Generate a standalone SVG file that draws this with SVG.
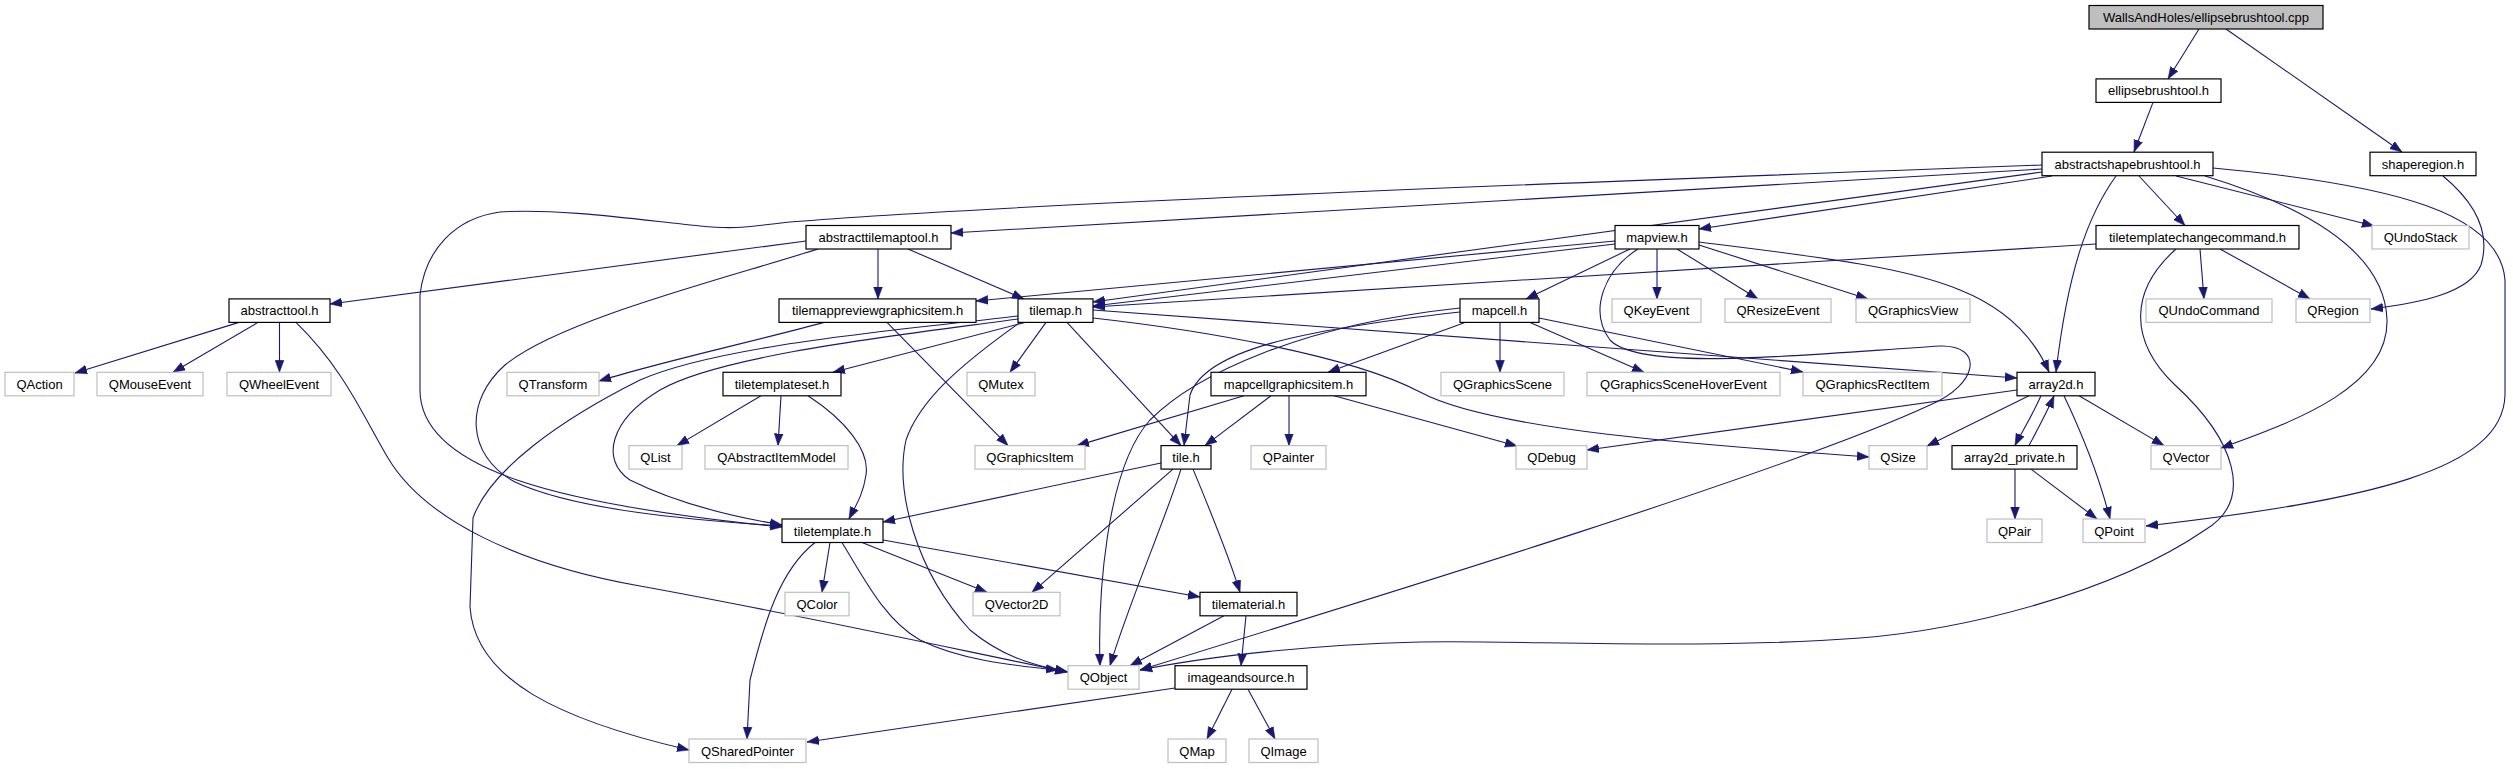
<svg xmlns="http://www.w3.org/2000/svg" width="2513" height="769" viewBox="0 0 2513 769">
<style>
.n rect{fill:#fff;stroke:#000;stroke-width:1.2}
.x rect{fill:#fff;stroke:#bfbfbf;stroke-width:1.2}
.r rect{fill:#bfbfbf;stroke:#000;stroke-width:1.2}
text{font-family:"Liberation Sans",Arial,Helvetica,sans-serif;font-size:13px;text-anchor:middle;fill:#000}
#edges path{fill:none;stroke:#191970;stroke-width:1.1;marker-end:url(#a)}
</style>
<defs>
<marker id="a" markerUnits="userSpaceOnUse" viewBox="0 0 12 10" markerWidth="12" markerHeight="10" refX="12" refY="5" orient="auto">
<path d="M0,0.6 L12,5 L0,9.4 z" fill="#191970" stroke="#191970" stroke-width="0.5"/>
</marker>
</defs>
<rect width="2513" height="769" fill="#fff"/>
<g id="edges">
<path d="M2199,29 L2168,79"/>
<path d="M2226,29 L2402,152"/>
<path d="M2153,102.4 L2134,152"/>
<path d="M2443,176 C2478,205 2490,235 2481,265 C2470,293 2420,303 2371,309"/>
<path d="M2139,176 L2185,225.5"/>
<path d="M2176,176 L2374,226"/>
<path d="M2116,176 C2088,215 2068,270 2056,372"/>
<path d="M2205,176 C2300,205 2385,250 2387,320 C2389,385 2300,420 2221,448"/>
<path d="M2213,168 C2400,185 2500,215 2505,280 L2505,395 C2503,470 2370,500 2146,526"/>
<path d="M2052,176 L1699,229"/>
<path d="M2042,172 L1093,302"/>
<path d="M2042,169 L951,233"/>
<path d="M2042,165 C1500,185 1000,205 790,222 C750,226 740,230 700,226 C640,220 560,208 500,212 C455,218 425,250 420,295 L420,390 C420,470 560,505 782,527"/>
<path d="M806,241 L330,304"/>
<path d="M878,249 L878,299"/>
<path d="M908,249 L1024,299"/>
<path d="M818,249 C720,280 560,320 505,365 C465,400 465,455 515,482 C575,510 690,520 782,526"/>
<path d="M239,322.4 L75,373"/>
<path d="M258,322.4 L173,372.3"/>
<path d="M279.5,322.4 L279.5,372.3"/>
<path d="M296,322.4 C345,370 365,420 388,458 C425,520 520,565 640,586 C800,615 950,648 1067,672"/>
<path d="M824,322.4 C760,340 660,362 599,381"/>
<path d="M887,322.4 L1008,445.6"/>
<path d="M1025,322.4 L833,372.3"/>
<path d="M1046,322.4 L1010,372.3"/>
<path d="M1067,322.4 L1181,445.6"/>
<path d="M1020,322.4 C960,365 920,400 906,440 C895,490 915,570 970,630 C1000,655 1030,665 1068,672"/>
<path d="M1018,316 C900,330 720,345 640,380 C560,420 490,470 473,518 L470,607 C475,680 560,720 689,750"/>
<path d="M1018,319 C900,335 720,355 660,390 C610,420 600,460 630,480 C680,505 740,518 782,525"/>
<path d="M1093,318 C1200,330 1350,355 1420,392 C1490,430 1700,445 1869,457"/>
<path d="M1093,310 L2017,378"/>
<path d="M1615,241 L976,301"/>
<path d="M1615,244 L1093,306"/>
<path d="M1630,249 L1526,299"/>
<path d="M1657,249 L1657,299"/>
<path d="M1677,249 L1758,299"/>
<path d="M1699,245 L1868,299"/>
<path d="M1699,242 C1800,255 1900,265 1960,290 C2010,310 2035,340 2049,372"/>
<path d="M1638,249 C1605,270 1588,310 1610,340 C1640,372 1800,355 1940,346 C1985,345 1978,385 1930,405 C1790,470 1400,590 1140,670"/>
<path d="M1500,322.4 L1500,372.3"/>
<path d="M1530,322.4 L1644,372.3"/>
<path d="M1539,318 L1803,372"/>
<path d="M1465,322.4 L1328,372.3"/>
<path d="M1460,312 C1300,330 1205,350 1190,395 L1184,445.6"/>
<path d="M1460,308 C1300,325 1195,375 1150,420 C1105,470 1098,600 1100,665.7"/>
<path d="M1244,395.8 L1077,445.6"/>
<path d="M1271,395.8 L1205,445.6"/>
<path d="M1289,395.8 L1289,445.6"/>
<path d="M1334,395.8 L1517,446"/>
<path d="M761,395.8 L677,445.6"/>
<path d="M781,395.8 L778,445.6"/>
<path d="M808,395.8 C845,420 870,450 866,475 C863,495 856,505 849,519"/>
<path d="M2029,395.8 L1927,446"/>
<path d="M2041,395.8 C2030,420 2020,435 2015,445.6"/>
<path d="M2029,445.6 C2040,425 2048,410 2054,395.8"/>
<path d="M2064,395.8 C2085,440 2100,480 2110,519"/>
<path d="M2079,395.8 L2164,445.6"/>
<path d="M2017,390 L1587,450"/>
<path d="M2015,469.1 L2015,519"/>
<path d="M2031,469.1 L2097,519"/>
<path d="M2096,244 L1093,307"/>
<path d="M2200,249 L2204,298.9"/>
<path d="M2220,249 L2310,298.9"/>
<path d="M2176,249 C2130,290 2128,340 2175,385 C2235,440 2255,500 2205,530 C2110,595 1960,630 1860,638 C1700,650 1520,640 1420,642 C1300,645 1200,658 1140,670"/>
<path d="M1161,463 L883,522"/>
<path d="M1173,469.1 L1032,592.3"/>
<path d="M1181,469.1 C1165,520 1130,600 1110,665.7"/>
<path d="M1193,469.1 C1210,510 1230,560 1240,592.3"/>
<path d="M815,542.5 C780,570 765,620 750,680 L747,739"/>
<path d="M830,542.5 L822,592.3"/>
<path d="M842,542.5 C865,580 885,620 920,640 C960,660 1010,665 1058,670"/>
<path d="M862,542.5 L987,592.3"/>
<path d="M883,540 L1200,597"/>
<path d="M1224,615.8 L1130,665.7"/>
<path d="M1246,615.8 L1241,665.7"/>
<path d="M1175,688 L807,742"/>
<path d="M1232,689.2 L1207,739"/>
<path d="M1248,689.2 L1275,739"/>
</g>
<g id="root" class="r"><rect x="2089" y="5.5" width="234" height="23.5"/><text x="2206" y="22">WallsAndHoles/ellipsebrushtool.cpp</text></g>
<g id="ellipsebrushtool_h" class="n"><rect x="2096" y="78.9" width="125" height="23.5"/><text x="2158.5" y="95.4">ellipsebrushtool.h</text></g>
<g id="abstractshapebrushtool_h" class="n"><rect x="2042" y="152.2" width="171" height="23.5"/><text x="2127.5" y="168.7">abstractshapebrushtool.h</text></g>
<g id="shaperegion_h" class="n"><rect x="2370" y="152.2" width="106" height="23.5"/><text x="2423" y="168.7">shaperegion.h</text></g>
<g id="abstracttilemaptool_h" class="n"><rect x="806" y="225.5" width="145" height="23.5"/><text x="878.5" y="242">abstracttilemaptool.h</text></g>
<g id="mapview_h" class="n"><rect x="1615" y="225.5" width="84" height="23.5"/><text x="1657" y="242">mapview.h</text></g>
<g id="tiletemplatechangecommand_h" class="n"><rect x="2096" y="225.5" width="203" height="23.5"/><text x="2197.5" y="242">tiletemplatechangecommand.h</text></g>
<g id="QUndoStack" class="x"><rect x="2372" y="225.5" width="97" height="23.5"/><text x="2420.5" y="242">QUndoStack</text></g>
<g id="abstracttool_h" class="n"><rect x="229" y="298.9" width="101" height="23.5"/><text x="279.5" y="315.4">abstracttool.h</text></g>
<g id="tilemappreviewgraphicsitem_h" class="n"><rect x="779" y="298.9" width="197" height="23.5"/><text x="877.5" y="315.4">tilemappreviewgraphicsitem.h</text></g>
<g id="tilemap_h" class="n"><rect x="1018" y="298.9" width="75" height="23.5"/><text x="1055.5" y="315.4">tilemap.h</text></g>
<g id="mapcell_h" class="n"><rect x="1460" y="298.9" width="79" height="23.5"/><text x="1499.5" y="315.4">mapcell.h</text></g>
<g id="QKeyEvent" class="x"><rect x="1612" y="298.9" width="89" height="23.5"/><text x="1656.5" y="315.4">QKeyEvent</text></g>
<g id="QResizeEvent" class="x"><rect x="1725" y="298.9" width="106" height="23.5"/><text x="1778" y="315.4">QResizeEvent</text></g>
<g id="QGraphicsView" class="x"><rect x="1856" y="298.9" width="114" height="23.5"/><text x="1913" y="315.4">QGraphicsView</text></g>
<g id="QUndoCommand" class="x"><rect x="2146" y="298.9" width="126" height="23.5"/><text x="2209" y="315.4">QUndoCommand</text></g>
<g id="QRegion" class="x"><rect x="2296" y="298.9" width="74" height="23.5"/><text x="2333" y="315.4">QRegion</text></g>
<g id="QAction" class="x"><rect x="5" y="372.3" width="69" height="23.5"/><text x="39.5" y="388.8">QAction</text></g>
<g id="QMouseEvent" class="x"><rect x="97" y="372.3" width="106" height="23.5"/><text x="150" y="388.8">QMouseEvent</text></g>
<g id="QWheelEvent" class="x"><rect x="227" y="372.3" width="104" height="23.5"/><text x="279" y="388.8">QWheelEvent</text></g>
<g id="QTransform" class="x"><rect x="507" y="372.3" width="92" height="23.5"/><text x="553" y="388.8">QTransform</text></g>
<g id="tiletemplateset_h" class="n"><rect x="723" y="372.3" width="118" height="23.5"/><text x="782" y="388.8">tiletemplateset.h</text></g>
<g id="QMutex" class="x"><rect x="967" y="372.3" width="68" height="23.5"/><text x="1001" y="388.8">QMutex</text></g>
<g id="mapcellgraphicsitem_h" class="n"><rect x="1211" y="372.3" width="155" height="23.5"/><text x="1288.5" y="388.8">mapcellgraphicsitem.h</text></g>
<g id="QGraphicsScene" class="x"><rect x="1441" y="372.3" width="123" height="23.5"/><text x="1502.5" y="388.8">QGraphicsScene</text></g>
<g id="QGraphicsSceneHoverEvent" class="x"><rect x="1587" y="372.3" width="193" height="23.5"/><text x="1683.5" y="388.8">QGraphicsSceneHoverEvent</text></g>
<g id="QGraphicsRectItem" class="x"><rect x="1803" y="372.3" width="139" height="23.5"/><text x="1872.5" y="388.8">QGraphicsRectItem</text></g>
<g id="array2d_h" class="n"><rect x="2017" y="372.3" width="78" height="23.5"/><text x="2056" y="388.8">array2d.h</text></g>
<g id="QList" class="x"><rect x="629" y="445.6" width="53" height="23.5"/><text x="655.5" y="462.1">QList</text></g>
<g id="QAbstractItemModel" class="x"><rect x="705" y="445.6" width="143" height="23.5"/><text x="776.5" y="462.1">QAbstractItemModel</text></g>
<g id="QGraphicsItem" class="x"><rect x="975" y="445.6" width="110" height="23.5"/><text x="1030" y="462.1">QGraphicsItem</text></g>
<g id="tile_h" class="n"><rect x="1161" y="445.6" width="50" height="23.5"/><text x="1186" y="462.1">tile.h</text></g>
<g id="QPainter" class="x"><rect x="1251" y="445.6" width="75" height="23.5"/><text x="1288.5" y="462.1">QPainter</text></g>
<g id="QDebug" class="x"><rect x="1516" y="445.6" width="71" height="23.5"/><text x="1551.5" y="462.1">QDebug</text></g>
<g id="QSize" class="x"><rect x="1869" y="445.6" width="58" height="23.5"/><text x="1898" y="462.1">QSize</text></g>
<g id="array2d_private_h" class="n"><rect x="1952" y="445.6" width="125" height="23.5"/><text x="2014.5" y="462.1">array2d_private.h</text></g>
<g id="QVector" class="x"><rect x="2151" y="445.6" width="70" height="23.5"/><text x="2186" y="462.1">QVector</text></g>
<g id="tiletemplate_h" class="n"><rect x="782" y="519" width="101" height="23.5"/><text x="832.5" y="535.5">tiletemplate.h</text></g>
<g id="QPair" class="x"><rect x="1987" y="519" width="55" height="23.5"/><text x="2014.5" y="535.5">QPair</text></g>
<g id="QPoint" class="x"><rect x="2083" y="519" width="62" height="23.5"/><text x="2114" y="535.5">QPoint</text></g>
<g id="QColor" class="x"><rect x="785" y="592.3" width="64" height="23.5"/><text x="817" y="608.8">QColor</text></g>
<g id="QVector2D" class="x"><rect x="973" y="592.3" width="87" height="23.5"/><text x="1016.5" y="608.8">QVector2D</text></g>
<g id="tilematerial_h" class="n"><rect x="1200" y="592.3" width="97" height="23.5"/><text x="1248.5" y="608.8">tilematerial.h</text></g>
<g id="QObject" class="x"><rect x="1068" y="665.7" width="71" height="23.5"/><text x="1103.5" y="682.2">QObject</text></g>
<g id="imageandsource_h" class="n"><rect x="1175" y="665.7" width="132" height="23.5"/><text x="1241" y="682.2">imageandsource.h</text></g>
<g id="QSharedPointer" class="x"><rect x="689" y="739" width="117" height="23.5"/><text x="747.5" y="755.5">QSharedPointer</text></g>
<g id="QMap" class="x"><rect x="1168" y="739" width="58" height="23.5"/><text x="1197" y="755.5">QMap</text></g>
<g id="QImage" class="x"><rect x="1249" y="739" width="69" height="23.5"/><text x="1283.5" y="755.5">QImage</text></g>
</svg>
